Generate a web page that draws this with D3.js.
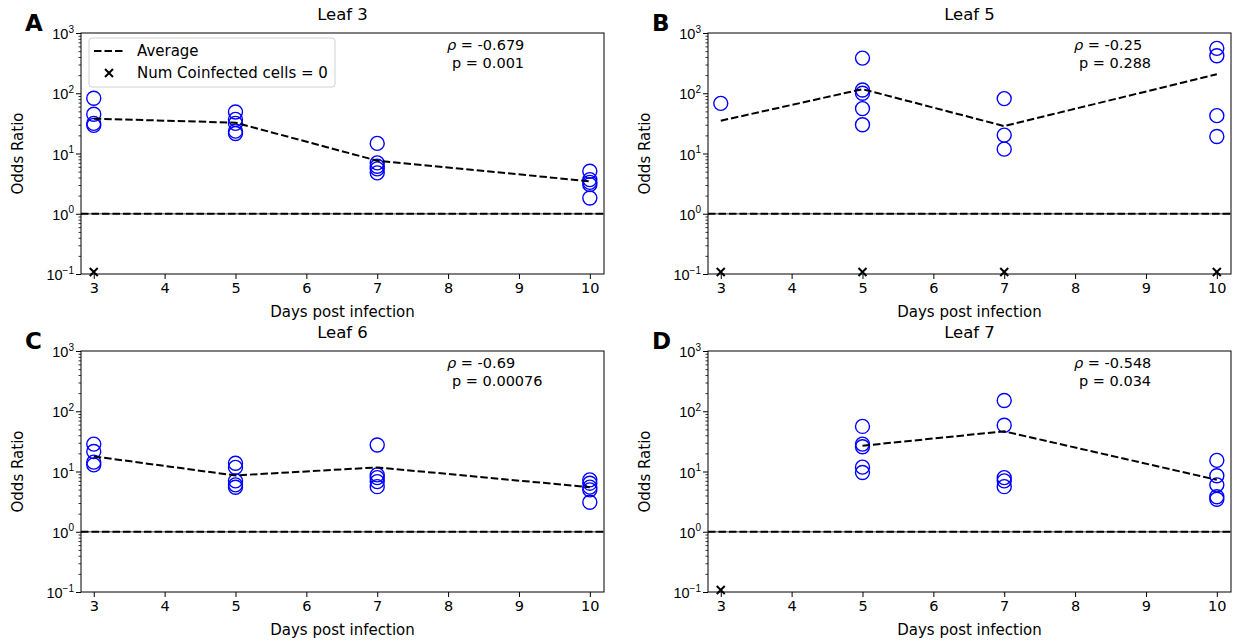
<!doctype html>
<html lang="en">
<head>
<meta charset="UTF-8">
<title>Odds Ratio by leaf</title>
<script src="https://d3js.org/d3.v7.min.js"></script>
<style>
    body { margin: 0; background: #fff; }
    svg { font-family: "DejaVu Sans", sans-serif; }
</style>
</head>
<body>
<script>
    // days sampled
    var days = [3, 5, 7, 10];
    var xTicks = [3, 4, 5, 6, 7, 8, 9, 10];
    var yTicks = [0.1, 1, 10, 100, 1000];
    var yTickExp = ["\u22121", "0", "1", "2", "3"];

    var titles = ["Leaf 3", "Leaf 5", "Leaf 6", "Leaf 7"];
    var letters = ["A", "B", "C", "D"];
    var rhoValues = ["-0.679", "-0.25", "-0.69", "-0.548"];
    var pValues = ["0.001", "0.288", "0.00076", "0.034"];

    // odds ratios per day (same order as days)
    var leaf3Odds = [[82.5, 44.7, 31.6, 29.3], [48.8, 36.9, 31.6, 23.5, 21.5], [14.7, 7.0, 6.15, 5.56, 4.77], [5.07, 3.69, 3.32, 3.04, 1.83]];
    var leaf5Odds = [[68], [383, 113, 100, 55.6, 30], [81.5, 20.2, 11.8], [556, 419, 42.5, 19.2]];
    var leaf6Odds = [[28.5, 21.5, 14.3, 12.9], [13.7, 11.7, 7.0, 6.0, 5.48], [27.5, 8.8, 7.9, 6.8, 5.6], [7.27, 6.4, 5.5, 4.95, 3.08]];
    var leaf7Odds = [[], [56, 28.5, 25.8, 11.8, 9.6], [150.6, 58.5, 7.9, 7.0, 5.6], [15.3, 8.5, 6.0, 3.8, 3.46]];

    // dashed average line
    var leaf3Avg = [37.9, 32.5, 7.6, 3.46];
    var leaf5Avg = [35, 117, 28.5, 207];
    var leaf6Avg = [17.8, 8.6, 11.7, 5.48];
    var leaf7Avg = [null, 26.8, 46.4, 7.27];

    // days where number of coinfected cells = 0
    var leaf3Zero = [3];
    var leaf5Zero = [3, 5, 7, 10];
    var leaf6Zero = [];
    var leaf7Zero = [3];

    var odds = [leaf3Odds, leaf5Odds, leaf6Odds, leaf7Odds];
    var avgs = [leaf3Avg, leaf5Avg, leaf6Avg, leaf7Avg];
    var zeros = [leaf3Zero, leaf5Zero, leaf6Zero, leaf7Zero];

    var width = 1238, height = 643;
    var svg = d3.select('body').append('svg')
        .attr('width', width)
        .attr('height', height);

    // plot rectangles
    var panels = [
        {left: 81, top: 33, right: 604, bottom: 274},
        {left: 708, top: 33, right: 1231, bottom: 274},
        {left: 81, top: 351, right: 604, bottom: 592},
        {left: 708, top: 351, right: 1231, bottom: 592}
    ];

    function xMark(cx, cy, s) {
        return 'M' + (cx - s) + ',' + (cy - s) + 'L' + (cx + s) + ',' + (cy + s) +
               'M' + (cx - s) + ',' + (cy + s) + 'L' + (cx + s) + ',' + (cy - s);
    }

    panels.forEach(function(p, i){
        var x = d3.scaleLinear().domain([2.82, 10.2]).range([p.left, p.right]);
        var y = d3.scaleLog().domain([0.1, 1000]).range([p.bottom, p.top]);
        var g = svg.append('g');

        // x axis
        var xa = g.append('g')
            .attr('transform', 'translate(0,' + p.bottom + ')')
            .call(d3.axisBottom(x).tickValues(xTicks).tickSize(5).tickPadding(4).tickFormat(d3.format('d')));
        xa.select('.domain').remove();
        xa.selectAll('text').attr('font-size', 14.5).attr('fill', '#000').attr('font-family', 'DejaVu Sans');
        xa.selectAll('line').attr('stroke', '#000');

        // y axis minor ticks
        var minor = y.ticks().filter(function(v){ return yTicks.indexOf(v) < 0; });
        var ym = g.append('g')
            .attr('transform', 'translate(' + p.left + ',0)')
            .call(d3.axisLeft(y).tickValues(minor).tickSize(2.5).tickFormat(''));
        ym.select('.domain').remove();
        ym.selectAll('line').attr('stroke', '#000').attr('stroke-width', 0.8);

        // y axis major ticks
        var ya = g.append('g')
            .attr('transform', 'translate(' + p.left + ',0)')
            .call(d3.axisLeft(y).tickValues(yTicks).tickSize(5).tickFormat(''));
        ya.select('.domain').remove();
        ya.selectAll('line').attr('stroke', '#000');

        var lab = ya.selectAll('.tick').append('text')
            .attr('x', -7)
            .attr('dy', '0.38em')
            .attr('text-anchor', 'end')
            .attr('font-size', 14.5)
            .attr('fill', '#000');
        lab.append('tspan').text('10');
        lab.append('tspan')
            .attr('font-size', 10)
            .attr('dy', '-0.65em')
            .text(function(d, k){ return yTickExp[k]; });

        // reference line at 1
        g.append('line')
            .attr('x1', p.left).attr('x2', p.right)
            .attr('y1', y(1)).attr('y2', y(1))
            .attr('stroke', '#7f7f7f').attr('stroke-width', 1.5);
        g.append('line')
            .attr('x1', p.left).attr('x2', p.right)
            .attr('y1', y(1)).attr('y2', y(1))
            .attr('stroke', '#000').attr('stroke-width', 2)
            .attr('stroke-dasharray', '7.5,3');

        // points
        var pts = [];
        odds[i].forEach(function(vals, k){
            vals.forEach(function(v){ pts.push({day: days[k], v: v}); });
        });
        g.append('g').selectAll('circle')
            .data(pts)
            .enter().append('circle')
            .attr('cx', function(d){ return x(d.day); })
            .attr('cy', function(d){ return y(d.v); })
            .attr('r', 7)
            .attr('fill', 'none')
            .attr('stroke', '#0000ff')
            .attr('stroke-width', 1.4);

        // average
        var avgData = days.map(function(d, k){ return {day: d, v: avgs[i][k]}; })
            .filter(function(d){ return d.v != null; });
        var line = d3.line()
            .x(function(d){ return x(d.day); })
            .y(function(d){ return y(d.v); });
        g.append('path')
            .datum(avgData)
            .attr('d', line)
            .attr('fill', 'none')
            .attr('stroke', '#000')
            .attr('stroke-width', 2)
            .attr('stroke-dasharray', '7.5,3');

        // zero coinfection markers
        g.append('g')
            .selectAll('path')
            .data(zeros[i])
            .enter().append('path')
            .attr('d', function(d){ return xMark(x(d), y(0.1) - 2, 4); })
            .attr('stroke', '#000')
            .attr('stroke-width', 2);

        // frame
        g.append('rect')
            .attr('x', p.left).attr('y', p.top)
            .attr('width', p.right - p.left).attr('height', p.bottom - p.top)
            .attr('fill', 'none').attr('stroke', '#000').attr('stroke-width', 1);

        // texts
        var cx = (p.left + p.right) / 2;
        g.append('text')
            .attr('x', cx).attr('y', p.top - 13)
            .attr('text-anchor', 'middle')
            .attr('font-size', 16.5)
            .text(titles[i]);
        g.append('text')
            .attr('x', cx).attr('y', p.bottom + 43)
            .attr('text-anchor', 'middle')
            .attr('font-size', 15)
            .text('Days post infection');
        g.append('text')
            .attr('transform', 'translate(' + (p.left - 58) + ',' + ((p.top + p.bottom) / 2) + ') rotate(-90)')
            .attr('text-anchor', 'middle')
            .attr('font-size', 15)
            .text('Odds Ratio');
        g.append('text')
            .attr('x', p.left - 56).attr('y', p.top - 2)
            .attr('font-size', 23)
            .attr('font-weight', 'bold')
            .text(letters[i]);

        var rt = g.append('text')
            .attr('x', p.left + 366).attr('y', p.top + 17)
            .attr('font-size', 14.5);
        rt.append('tspan').attr('font-style', 'italic').text('\u03C1');
        rt.append('tspan').text(' = ' + rhoValues[i]);
        g.append('text')
            .attr('x', p.left + 371).attr('y', p.top + 35)
            .attr('font-size', 14.5)
            .text('p = ' + pValues[i]);

        // legend in first panel only
        if (i == 0) {
            var lg = g.append('g');
            lg.append('rect')
                .attr('x', p.left + 8).attr('y', p.top + 5)
                .attr('width', 246).attr('height', 49)
                .attr('rx', 3)
                .attr('fill', '#fff').attr('fill-opacity', 0.8)
                .attr('stroke', '#d0d0d0');
            lg.append('line')
                .attr('x1', p.left + 13).attr('x2', p.left + 42)
                .attr('y1', p.top + 18).attr('y2', p.top + 18)
                .attr('stroke', '#000').attr('stroke-width', 2)
                .attr('stroke-dasharray', '7.5,3');
            lg.append('text')
                .attr('x', p.left + 56).attr('y', p.top + 23)
                .attr('font-size', 15)
                .text('Average');
            lg.append('path')
                .attr('d', xMark(p.left + 28, p.top + 40, 4))
                .attr('stroke', '#000').attr('stroke-width', 2);
            lg.append('text')
                .attr('x', p.left + 56).attr('y', p.top + 45)
                .attr('font-size', 15)
                .text('Num Coinfected cells = 0');
        }
    });
</script>
</body>
</html>
